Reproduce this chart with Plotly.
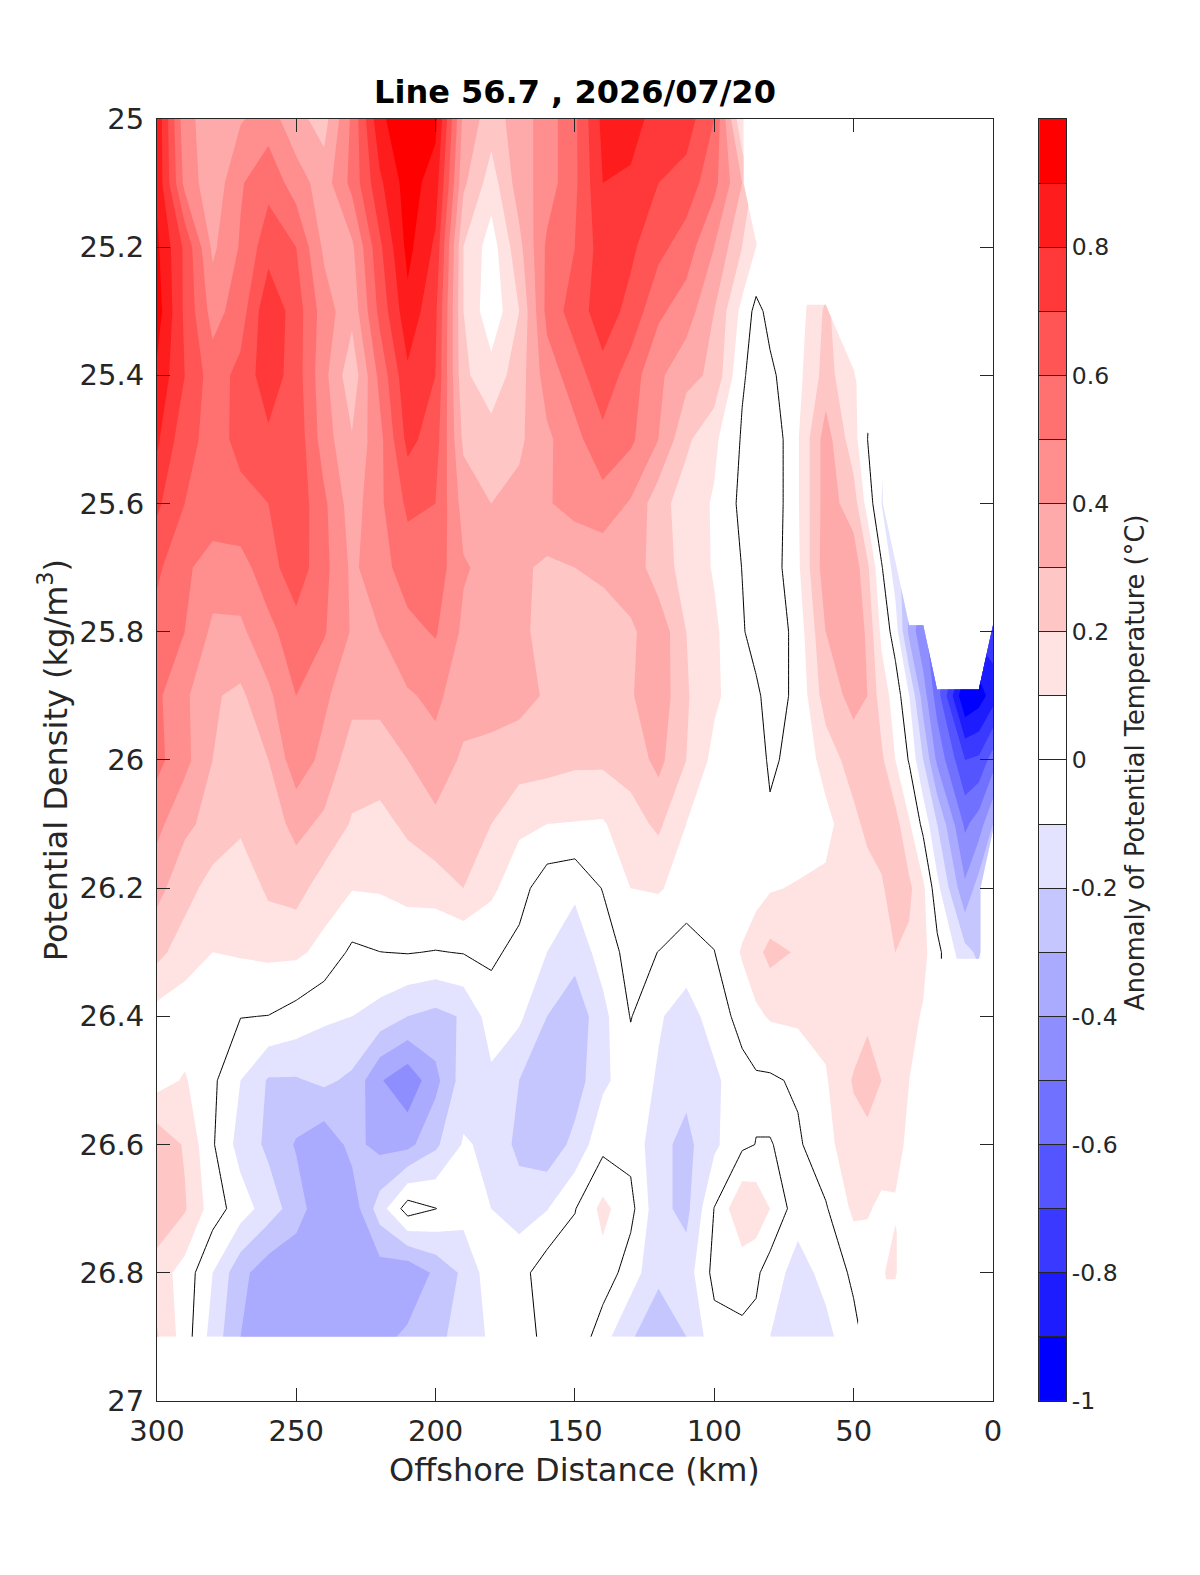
import plotly.graph_objects as go

n = None

# offshore distance (km), potential density (kg/m3)
distance = [300, 290, 280, 270, 260, 250, 240, 230, 220, 210, 200, 190, 180, 170, 160, 150, 140, 130, 120, 110, 100,
            90, 85, 80, 70, 60, 50, 45, 40, 35, 30, 25, 20, 10, 5, 0]
density = [25.0, 25.1, 25.2, 25.3, 25.4, 25.5, 25.6, 25.7, 25.8, 25.9,
           26.0, 26.1, 26.2, 26.3, 26.4, 26.5, 26.6, 26.7, 26.8, 26.9]

# temperature anomaly, one list per density level
r250 = [.88, .43, .35, .39, .45, .33, .26, .52, .88, .97, .93, .37, .25, .35, .45, .58, .83, .85, .75, .75, .6,
        .1, n, n, n, n, n, n, n, n, n, n, n, n, n, n]
r251 = [.88, .47, .33, .49, .57, .45, .35, .53, .78, .95, .85, .32, .15, .35, .45, .58, .8, .78, .7, .66, .53,
        .3, n, n, n, n, n, n, n, n, n, n, n, n, n, n]
r252 = [.92, .68, .38, .51, .66, .6, .38, .38, .68, .93, .78, .2, .05, .27, .52, .6, .75, .72, .63, .55, .4,
        .2, .1, n, n, n, n, n, n, n, n, n, n, n, n, n]
r253 = [.95, .68, .46, .55, .78, .65, .45, .33, .63, .87, .72, .2, .03, .2, .53, .65, .75, .67, .52, .45, .3,
        .07, -.03, .03, .05, .22, n, n, n, n, n, n, n, n, n, n]
r254 = [.88, .7, .55, .63, .76, .65, .43, .23, .53, .78, .7, .22, .14, .25, .45, .55, .67, .55, .42, .33, .28,
        .01, -.03, -.02, .07, .24, .12, n, n, n, n, n, n, n, n, n]
r255 = [.82, .63, .57, .62, .68, .67, .45, .31, .47, .73, .65, .28, .24, .28, .38, .47, .57, .52, .4, .22, .12,
        -.01, -.05, -.08, .09, .35, .14, .0, -.08, n, n, n, n, n, n, n]
r256 = [.72, .6, .57, .58, .6, .67, .52, .35, .48, .62, .6, .36, .3, .33, .39, .44, .46, .39, .24, .15, .09,
        -.025, -.05, -.08, .09, .35, .25, .06, -.1, n, n, n, n, n, n, n]
r257 = [.62, .52, .45, .46, .56, .66, .53, .38, .46, .55, .56, .41, .37, .32, .28, .3, .33, .37, .24, .17, .09,
        -.002, -.03, -.06, .08, .36, .36, .22, .01, -.15, n, n, n, n, n, n]
r258 = [.56, .5, .38, .38, .47, .56, .51, .39, .4, .47, .51, .38, .35, .32, .27, .25, .23, .28, .37, .2, .12,
        .01, -.04, -.08, .04, .3, .38, .28, .08, -.05, -.33, -.48, n, n, n, -.75]
r259 = [.52, .42, .31, .28, .38, .5, .42, .33, .33, .39, .42, .35, .34, .33, .29, .25, .24, .29, .37, .21, .12,
        .04, .02, -.04, .02, .25, .33, .3, .15, .06, -.1, -.35, -.55, -1.0, -.95, -.85]
r260 = [.53, .43, .3, .25, .3, .46, .37, .25, .25, .3, .37, .28, .27, .25, .24, .22, .22, .24, .33, .2, .07,
        .05, .03, -.01, .02, .14, .25, .24, .22, .1, -.01, -.2, -.42, -.7, -.68, -.55]
r261 = [.43, .32, .27, .22, .25, .33, .28, .19, .17, .22, .27, .26, .2, .12, .1, .095, .09, .16, .22, .1, .06,
        .05, .03, .01, .03, .07, .17, .23, .27, .24, .11, -.03, -.2, -.52, -.45, -.3]
r262 = [.33, .24, .16, .13, .22, .24, .15, .105, .11, .14, .15, .2, .12, .04, -.06, -.08, .005, .1, .11, .06, .05,
        .04, .06, .09, .11, .12, .13, .15, .18, .28, .22, .12, -.07, -.38, -.25, n]
r263 = [.23, .15, .1, .11, .12, .12, .07, -.02, -.001, .005, -.005, .005, .02, -.03, -.1, -.16, -.06, .04, -.002, -.05, -.002,
        .11, .17, .23, .19, .14, .15, .15, .17, .2, .18, .13, .03, -.17, -.22, n]
r264 = [.06, .04, .02, .003, -.002, -.04, -.085, -.1, -.14, -.2, -.23, -.19, -.05, -.08, -.2, -.27, -.13, .005, -.09, -.14, -.06,
        .04, .08, .11, .12, .13, .14, .17, .15, .15, .13, .09, n, n, n, n]
r265 = [.06, .11, .02, -.1, -.21, -.21, -.18, -.22, -.39, -.47, -.33, -.15, -.12, -.2, -.29, -.25, -.12, -.05, -.11, -.17, -.12,
        -.04, -.015, -.015, .015, .09, .21, .27, .2, .14, .1, n, n, n, n, n]
r266 = [.27, .19, .01, -.14, -.22, -.31, -.37, -.27, -.33, -.33, -.22, -.09, -.12, -.23, -.27, -.17, -.03, -.03, -.17, -.23, -.12,
        -.02, .002, .002, -.015, .07, .16, .15, .15, .13, .08, n, n, n, n, n]
r267 = [.28, .21, .05, -.05, -.15, -.25, -.38, -.36, -.15, .05, .002, -.06, -.1, -.14, -.105, -.005, .13, .03, -.17, -.23, .003,
        .19, .17, .1, -.06, -.01, .12, .11, .08, .09, n, n, n, n, n, n]
r268 = [.15, .06, -.1, -.27, -.36, -.38, -.38, -.38, -.35, -.38, -.28, -.18, -.04, -.04, .06, .06, .06, -.05, -.18, -.15, .03,
        .04, .02, -.05, -.14, -.07, .02, .05, .09, .13, n, n, n, n, n, n]
r269 = [.21, .05, -.14, -.3, -.36, -.38, -.38, -.37, -.33, -.28, -.22, -.17, -.08, -.05, .03, .08, -.06, -.19, -.26, -.2, -.04,
        -.02, -.03, -.1, -.15, -.13, -.03, n, n, n, n, n, n, n, n, n]

anomaly = [r250, r251, r252, r253, r254, r255, r256, r257, r258, r259,
           r260, r261, r262, r263, r264, r265, r266, r267, r268, r269]

# 20 bands, -1 to 1, white either side of 0
band_colors = ['#0000ff', '#1c1cff', '#3939ff', '#5555ff', '#7171ff', '#8e8eff', '#aaaaff', '#c6c6ff', '#e3e3ff', '#ffffff',
               '#ffffff', '#ffe3e3', '#ffc6c6', '#ffaaaa', '#ff8e8e', '#ff7171', '#ff5555', '#ff3939', '#ff1c1c', '#ff0000']
band_edges = [-1, -.9, -.8, -.7, -.6, -.5, -.4, -.3, -.2, -.1, 0, .1, .2, .3, .4, .5, .6, .7, .8, .9, 1]
band_mids = [-.95, -.85, -.75, -.65, -.55, -.45, -.35, -.25, -.15, -.05, .05, .15, .25, .35, .45, .55, .65, .75, .85, .95]
cbar_ticks = [-1, -.8, -.6, -.4, -.2, 0, .2, .4, .6, .8]
cbar_minor = [-.9, -.7, -.5, -.3, -.1, .1, .3, .5, .7, .9]
cbar_labels = ['-1', '-0.8', '-0.6', '-0.4', '-0.2', '0', '0.2', '0.4', '0.6', '0.8']
x_ticks = [300, 250, 200, 150, 100, 50, 0]
y_ticks = [25, 25.2, 25.4, 25.6, 25.8, 26, 26.2, 26.4, 26.6, 26.8, 27]

W, H = 1184, 1559
FONT = 'DejaVu Sans'
INK = '#262626'


# screenshot pixels to paper fractions (page margin and screenshot scale measured from a test render)
def fx(px):
    return (px - 6.4) / 0.9976 / W


def fy(py):
    return 1 - (py - 7.5) / 0.9961 / H


# stepped colour scale for the colour bar strip
bar_scale = []
for i, c in enumerate(band_colors):
    bar_scale.append([i / 20, c])
    bar_scale.append([(i + 1) / 20, c])

fig = go.Figure()
# one filled constraint per level so the white middle stays unpainted
# (plotly shades the side opposite to the operation here, hence < for the warm side)
for i in range(9):
    for op, level, color in [('<', band_edges[11 + i], band_colors[11 + i]), ('>', band_edges[9 - i], band_colors[8 - i])]:
        fig.add_trace(go.Contour(
            x=distance, y=density, z=anomaly,
            contours=dict(type='constraint', operation=op, value=level),
            fillcolor=color,
            line=dict(width=0, smoothing=0),
            connectgaps=False,
            showscale=False,
        ))
# zero contour
fig.add_trace(go.Contour(
    x=distance, y=density, z=anomaly,
    autocontour=False,
    contours=dict(start=0, end=0, size=1, coloring='none'),
    line=dict(color='black', width=1, smoothing=0),
    connectgaps=False,
    showscale=False,
))
# colour bar strip on its own axes
fig.add_trace(go.Heatmap(
    x=[0, 1], y=band_edges, z=[[v] for v in band_mids],
    zmin=-1, zmax=1, colorscale=bar_scale, showscale=False,
    xaxis='x2', yaxis='y2',
))

fig.update_layout(
    width=W, height=H,
    margin=dict(l=0, r=0, t=0, b=0, autoexpand=False),
    showlegend=False,
    paper_bgcolor='white', plot_bgcolor='white',
    font=dict(family=FONT, color=INK),
    title=dict(text='<b>Line 56.7 , 2026/07/20</b>', x=fx(572), xanchor='center',
               y=fy(91), yanchor='middle', font=dict(family=FONT, size=32, color='black')),
    xaxis=dict(
        domain=[fx(155), fx(989)], range=[300, 0], automargin=False,
        tickmode='array', tickvals=x_ticks,
        ticks='inside', ticklen=13, tickcolor=INK, tickwidth=1, ticklabelstandoff=4,
        showline=True, linecolor=INK, linewidth=1, mirror='ticks',
        showgrid=False, zeroline=False,
        tickfont=dict(family=FONT, size=29, color=INK),
    ),
    yaxis=dict(
        domain=[fy(1395), fy(118)], range=[27, 25], automargin=False,
        tickmode='array', tickvals=y_ticks,
        ticks='inside', ticklen=13, tickcolor=INK, tickwidth=1, ticklabelstandoff=6,
        showline=True, linecolor=INK, linewidth=1, mirror='ticks',
        showgrid=False, zeroline=False,
        tickfont=dict(family=FONT, size=29, color=INK),
    ),
    xaxis2=dict(
        domain=[fx(1035), fx(1062)], range=[0, 1], anchor='y2', automargin=False,
        showticklabels=False, ticks='', showgrid=False, zeroline=False,
        showline=True, linecolor=INK, linewidth=1, mirror=True,
    ),
    yaxis2=dict(
        domain=[fy(1395), fy(118)], range=[-1, 1], anchor='x2', side='right', automargin=False,
        tickmode='array', tickvals=cbar_ticks, ticktext=cbar_labels,
        ticks='inside', ticklen=27, tickcolor=INK, tickwidth=1,
        minor=dict(tickmode='array', tickvals=cbar_minor, ticks='inside', ticklen=27, tickcolor=INK, tickwidth=1),
        showgrid=False, zeroline=False,
        showline=True, linecolor=INK, linewidth=1, mirror=True,
        tickfont=dict(family=FONT, size=23.5, color=INK),
    ),
    annotations=[
        dict(text='Offshore Distance (km)', xref='paper', yref='paper', x=fx(572), y=fy(1464),
             xanchor='center', yanchor='middle', showarrow=False, font=dict(family=FONT, size=32, color=INK)),
        dict(text='Potential Density (kg/m<sup>3</sup>)', xref='paper', yref='paper', x=fx(52), y=fy(757),
             xanchor='center', yanchor='middle', textangle=-90, showarrow=False, font=dict(family=FONT, size=32, color=INK)),
        dict(text='Anomaly of Potential Temperature (°C)', xref='paper', yref='paper', x=fx(1131), y=fy(759),
             xanchor='center', yanchor='middle', textangle=-90, showarrow=False, font=dict(family=FONT, size=25.7, color=INK)),
    ],
)

fig.write_html('out.html')
